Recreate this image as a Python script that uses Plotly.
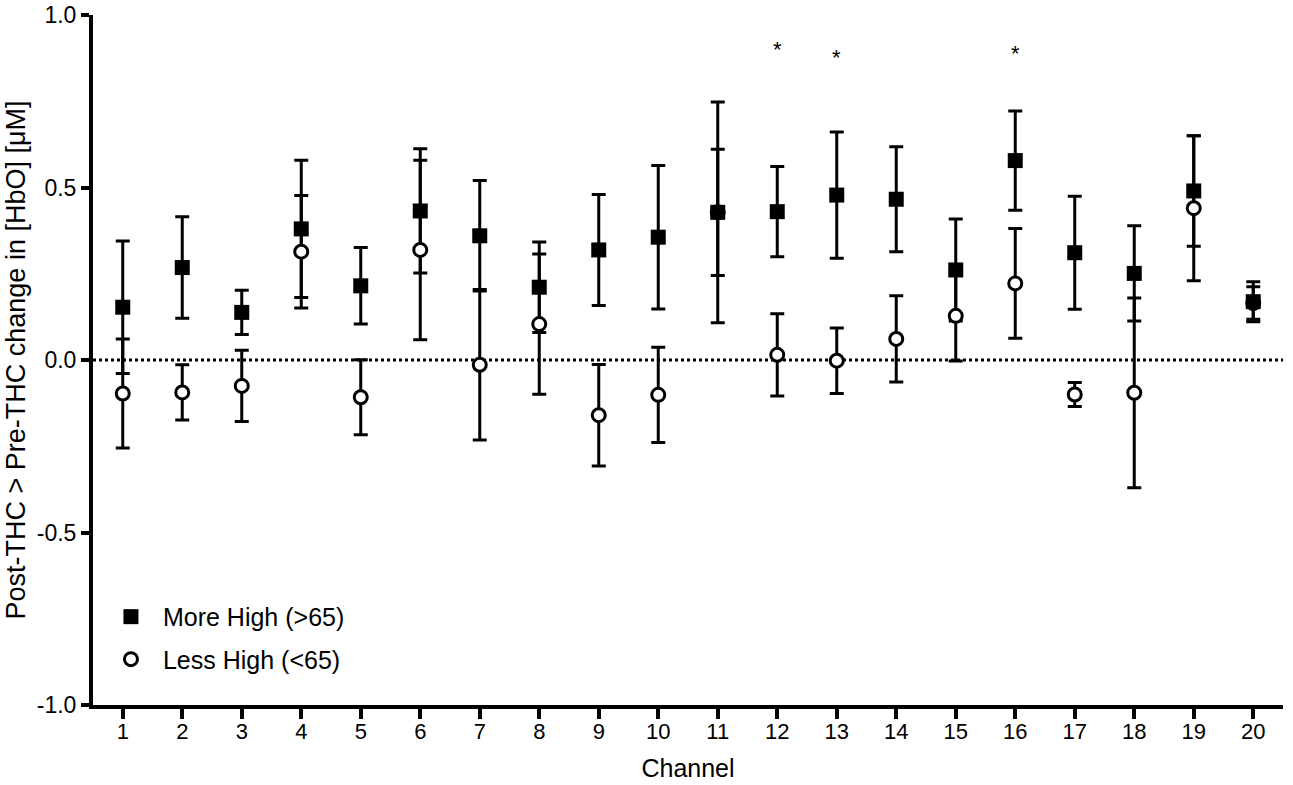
import plotly.graph_objects as go

channels = list(range(1, 21))
more_high = [0.153, 0.268, 0.138, 0.380, 0.215, 0.432, 0.360, 0.211, 0.319, 0.356,
             0.428, 0.430, 0.478, 0.466, 0.261, 0.578, 0.311, 0.251, 0.490, 0.169]
more_high_err = [0.192, 0.147, 0.064, 0.199, 0.111, 0.180, 0.160, 0.131, 0.161, 0.208,
                 0.320, 0.131, 0.183, 0.152, 0.148, 0.144, 0.164, 0.138, 0.160, 0.058]
less_high = [-0.097, -0.094, -0.075, 0.314, -0.108, 0.319, -0.014, 0.104, -0.160, -0.101,
             0.428, 0.015, -0.002, 0.061, 0.128, 0.222, -0.100, -0.095, 0.440, 0.165]
less_high_err = [0.158, 0.080, 0.103, 0.163, 0.109, 0.260, 0.218, 0.203, 0.147, 0.138,
                 0.183, 0.119, 0.095, 0.125, 0.131, 0.159, 0.035, 0.275, 0.210, 0.047]
sig_channels = [12, 13, 16]
sig_y = [0.913, 0.889, 0.899]
y_tickvals = [-1.0, -0.5, 0.0, 0.5, 1.0]
y_ticktext = ["-1.0", "-0.5", "0.0", "0.5", "1.0"]

FONT = "Liberation Sans, Arial, Helvetica, sans-serif"
fig = go.Figure()

# zero reference line (dotted)
fig.add_shape(type="line", xref="x", yref="y", x0=0.5, x1=20.5, y0=0, y1=0,
              line=dict(color="black", width=3, dash="dot"), layer="below")

# error bars first (beneath all markers)
for vals, errs in ((less_high, less_high_err), (more_high, more_high_err)):
    fig.add_trace(go.Scatter(
        x=channels, y=vals, mode="markers",
        marker=dict(size=1, color="rgba(0,0,0,0)"),
        error_y=dict(type="data", array=errs, symmetric=True, color="black",
                     thickness=3, width=7),
        showlegend=False, hoverinfo="skip"))

fig.add_trace(go.Scatter(
    x=channels, y=less_high, mode="markers", name="Less High (<65)",
    legendgroup="b", legendrank=2,
    marker=dict(symbol="circle", size=13, color="white",
                line=dict(color="black", width=3))))
fig.add_trace(go.Scatter(
    x=channels, y=more_high, mode="markers", name="More High (>65)",
    legendgroup="a", legendrank=1,
    marker=dict(symbol="square", size=15, color="black",
                line=dict(color="black", width=0))))

for c, yv in zip(sig_channels, sig_y):
    fig.add_annotation(x=c, y=yv, text="*", showarrow=False,
                       font=dict(size=22, color="black", family=FONT),
                       yanchor="middle", yshift=-4)

fig.update_layout(
    width=1293, height=785,
    margin=dict(l=93, r=10, t=15, b=80, autoexpand=False),
    paper_bgcolor="white", plot_bgcolor="white",
    font=dict(family=FONT, color="black"),
    legend=dict(x=0.005, y=0.161, xanchor="left", yanchor="top",
                font=dict(size=25, family=FONT), traceorder="grouped",
                tracegroupgap=7, bgcolor="rgba(0,0,0,0)", itemwidth=54),
    showlegend=True,
)
fig.update_xaxes(
    range=[0.5, 20.5], tickvals=channels, ticktext=[str(c) for c in channels],
    showline=True, linecolor="black", linewidth=4, mirror=False,
    ticks="outside", ticklen=10, tickwidth=4, tickcolor="black",
    showgrid=False, zeroline=False, automargin=False, ticklabelstandoff=-6,
    tickfont=dict(size=22, family=FONT, color="black"),
    title=dict(text="Channel", font=dict(size=25, family=FONT, color="black"), standoff=17),
)
fig.update_yaxes(
    range=[-1, 1], tickvals=y_tickvals, ticktext=y_ticktext,
    showline=True, linecolor="black", linewidth=4,
    ticks="outside", ticklen=8, tickwidth=4, tickcolor="black",
    showgrid=False, zeroline=False, automargin=False,
    tickfont=dict(size=23, family=FONT, color="black"),
    title=dict(text="Post-THC > Pre-THC change in [HbO] [\u03bcM]",
               font=dict(size=27, family=FONT, color="black"), standoff=4),
)

fig.write_html("out.html", config={"displayModeBar": False},
               post_script="document.body.style.margin='0';")
